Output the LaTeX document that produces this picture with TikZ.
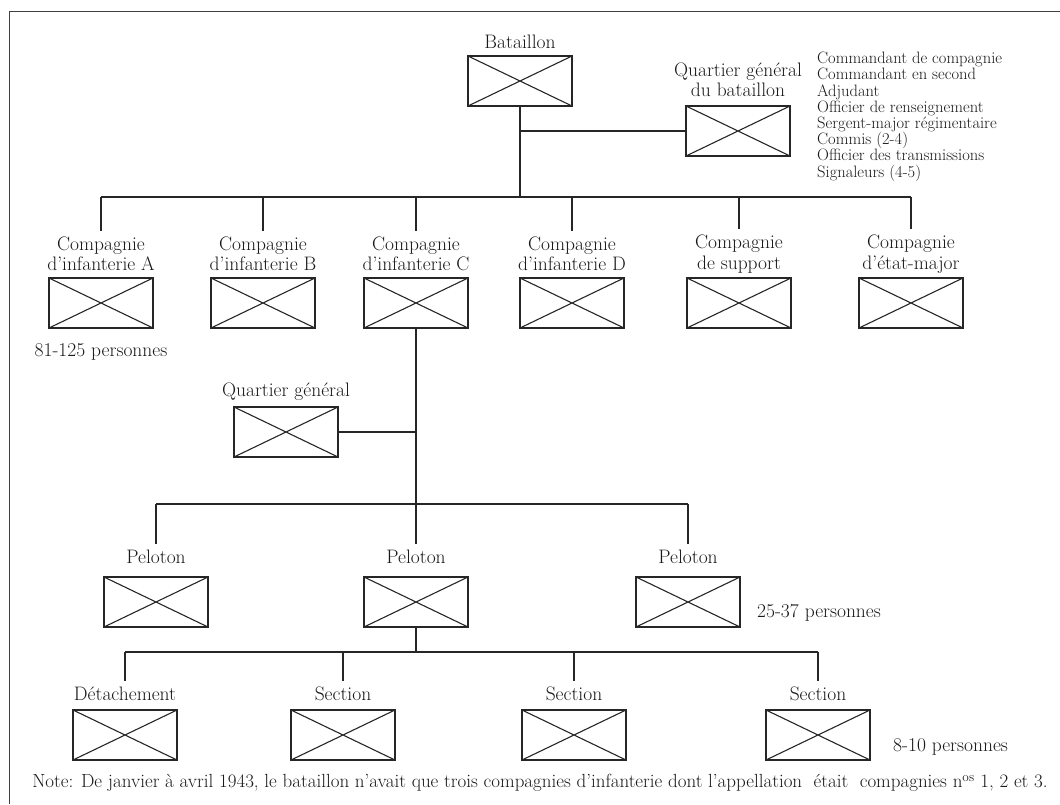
\documentclass[tikz,border=0pt]{standalone}
\usepackage{tikz}
\usetikzlibrary{arrows,shapes}
\tikzstyle{unit}=[draw=black!85,line width=1.5pt,minimum width=104pt,minimum height=50pt,inner sep=0pt,
    path picture={\draw[black!85,line width=1.1pt] (path picture bounding box.north west) -- (path picture bounding box.south east)
        (path picture bounding box.south west) -- (path picture bounding box.north east);}]
\tikzstyle{lbl}=[align=center,text=black!90,font=\fontsize{19.5}{20.5}\selectfont,inner sep=6pt]
\tikzstyle{small}=[align=left,text=black!90,font=\fontsize{16.5}{16.2}\selectfont,inner sep=0pt]
\tikzstyle{edge}=[draw,black!85,line width=1.4pt,-]

\begin{document}
\begin{tikzpicture}[x=1pt,y=-1pt]
    \useasboundingbox (0,0) rectangle (1060,804);
    \draw[black!75,line width=1pt] (9,804) -- (9,11) -- (1060,11);

    % First we draw the battalion and its headquarters
    \node[unit] (bat) at (520,81) {};
    \node[lbl] (tbat) at (520,42) {Bataillon};
    \node[unit] (qgb) at (738,131) {};
    \node[lbl] (tqgb) at (738,80) {Quartier général\\du bataillon};
    \node[small,anchor=north west] (staff) at (817,52) {Commandant de compagnie\\Commandant en second\\Adjudant\\Officier de renseignement\\Sergent-major régimentaire\\Commis (2-4)\\Officier des transmissions\\Signaleurs (4-5)};

    % Then the companies
    \foreach \x/\name/\txt in {101/cA/{Compagnie\\d’infanterie A}, 263/cB/{Compagnie\\d’infanterie B}, 416/cC/{Compagnie\\d’infanterie C},
        572/cD/{Compagnie\\d’infanterie D}, 739/cS/{Compagnie\\de support}, 911/cE/{Compagnie\\d’état-major}}
    {
        \node[unit] (\name) at (\x,303) {};
        \node[lbl] (t\name) at (\x,254) {\txt};
    }
    \node[lbl] (nbA) at (101,352) {81-125 personnes};

    % Headquarters and platoons of company C
    \node[unit] (qgc) at (286,432) {};
    \node[lbl] (tqgc) at (286,392) {Quartier général};
    \foreach \x/\name in {156/pA, 416/pB, 688/pC}
    {
        \node[unit] (\name) at (\x,602) {};
        \node[lbl] (t\name) at (\x,557) {Peloton};
    }
    \node[lbl,anchor=west,inner sep=0pt] (nbP) at (757,613) {25-37 personnes};

    % Sections of the middle platoon
    \foreach \x/\name/\txt in {125/sA/Détachement, 343/sB/Section, 574/sC/Section, 818/sD/Section}
    {
        \node[unit] (\name) at (\x,735) {};
        \node[lbl] (t\name) at (\x,694) {\txt};
    }
    \node[lbl,anchor=west,inner sep=0pt] (nbS) at (893,747) {8-10 personnes};

    \node[lbl,inner sep=0pt,font=\fontsize{19}{20}\selectfont] (note) at (540,783) {Note: De janvier à avril 1943, le bataillon n’avait que trois compagnies d’infanterie dont l’appellation~ était~ compagnies n\textsuperscript{os} 1, 2 et 3.};

    % Connect the units with lines
    \coordinate (bus) at (520,197);
    \coordinate (pbus) at (416,504);
    \coordinate (sbus) at (416,652);
    \path[edge] (bat.south) -- (bus);
    \path[edge] (qgb.west) -- (qgb.west -| bat.south);
    \path[edge] (tcA.north |- bus) -- (tcE.north |- bus);
    \foreach \name in {cA,cB,cC,cD,cS,cE}
        \path[edge] (t\name.north |- bus) -- (t\name.north);
    \path[edge] (cC.south) -- (pbus);
    \path[edge] (qgc.east) -- (qgc.east -| cC.south);
    \path[edge] (tpA.north |- pbus) -- (tpC.north |- pbus);
    \foreach \name in {pA,pB,pC}
        \path[edge] (t\name.north |- pbus) -- (t\name.north);
    \path[edge] (pB.south) -- (sbus);
    \path[edge] (tsA.north |- sbus) -- (tsD.north |- sbus);
    \foreach \name in {sA,sB,sC,sD}
        \path[edge] (t\name.north |- sbus) -- (t\name.north);
\end{tikzpicture}
\end{document}
